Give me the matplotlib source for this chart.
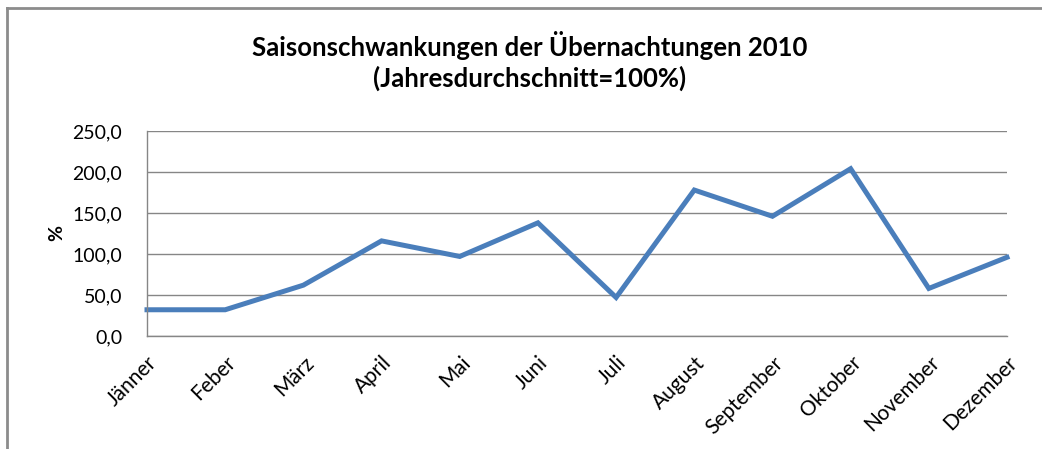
import numpy as np
import matplotlib.pyplot as plt
from matplotlib.lines import Line2D

monate = ['Jänner', 'Feber', 'März', 'April', 'Mai', 'Juni', 'Juli',
          'August', 'September', 'Oktober', 'November', 'Dezember']
prozent = [32, 32, 62, 116, 97, 138, 47, 178, 146, 204, 58, 96]
y_ticks = [0, 50, 100, 150, 200, 250]

plt.rcParams['font.family'] = ['Lato', 'DejaVu Sans']

fig = plt.figure(figsize=(10.42, 4.49), dpi=100)
ax = fig.add_axes([147/1042, 1 - 336/449, 860/1042, 205/449])

x = np.arange(len(monate))
ax.plot(x, prozent, color='#4A7EBB', linewidth=3.6, solid_joinstyle='miter', clip_on=False)

ax.set_xlim(0, len(monate) - 1)
ax.set_ylim(0, 250)
ax.set_yticks(y_ticks)
ax.set_yticklabels([f'{v:.1f}'.replace('.', ',') for v in y_ticks], fontsize=14)
ax.set_xticks(x)
ax.set_xticklabels(monate, rotation=45, ha='right', rotation_mode='anchor', fontsize=15)
ax.tick_params(axis='x', length=0, pad=12)
ax.tick_params(axis='y', length=0, pad=18)

ax.grid(axis='y', color='#868686', linewidth=1)
ax.set_axisbelow(True)
for s in ['top', 'right']:
    ax.spines[s].set_visible(False)
for s in ['left', 'bottom']:
    ax.spines[s].set_color('#868686')
    ax.spines[s].set_linewidth(1)

fig.text(57/1042, 1 - 233/449, '%', rotation=90, fontsize=14, fontweight='bold',
         ha='center', va='center')
fig.text(0.508, 1 - 45/449, 'Saisonschwankungen der Übernachtungen 2010',
         fontsize=18.5, fontweight='bold', ha='center', va='center')
fig.text(0.508, 1 - 78/449, '(Jahresdurchschnitt=100%)',
         fontsize=18.5, fontweight='bold', ha='center', va='center')

# outer chart frame (left and top edge visible)
fig.add_artist(Line2D([7/1042, 7/1042], [0, 1 - 8/449], transform=fig.transFigure,
                      color='#8c8c8c', linewidth=2))
fig.add_artist(Line2D([7/1042, 1], [1 - 8/449, 1 - 8/449], transform=fig.transFigure,
                      color='#8c8c8c', linewidth=2))

fig.savefig('out.png', dpi=100)
